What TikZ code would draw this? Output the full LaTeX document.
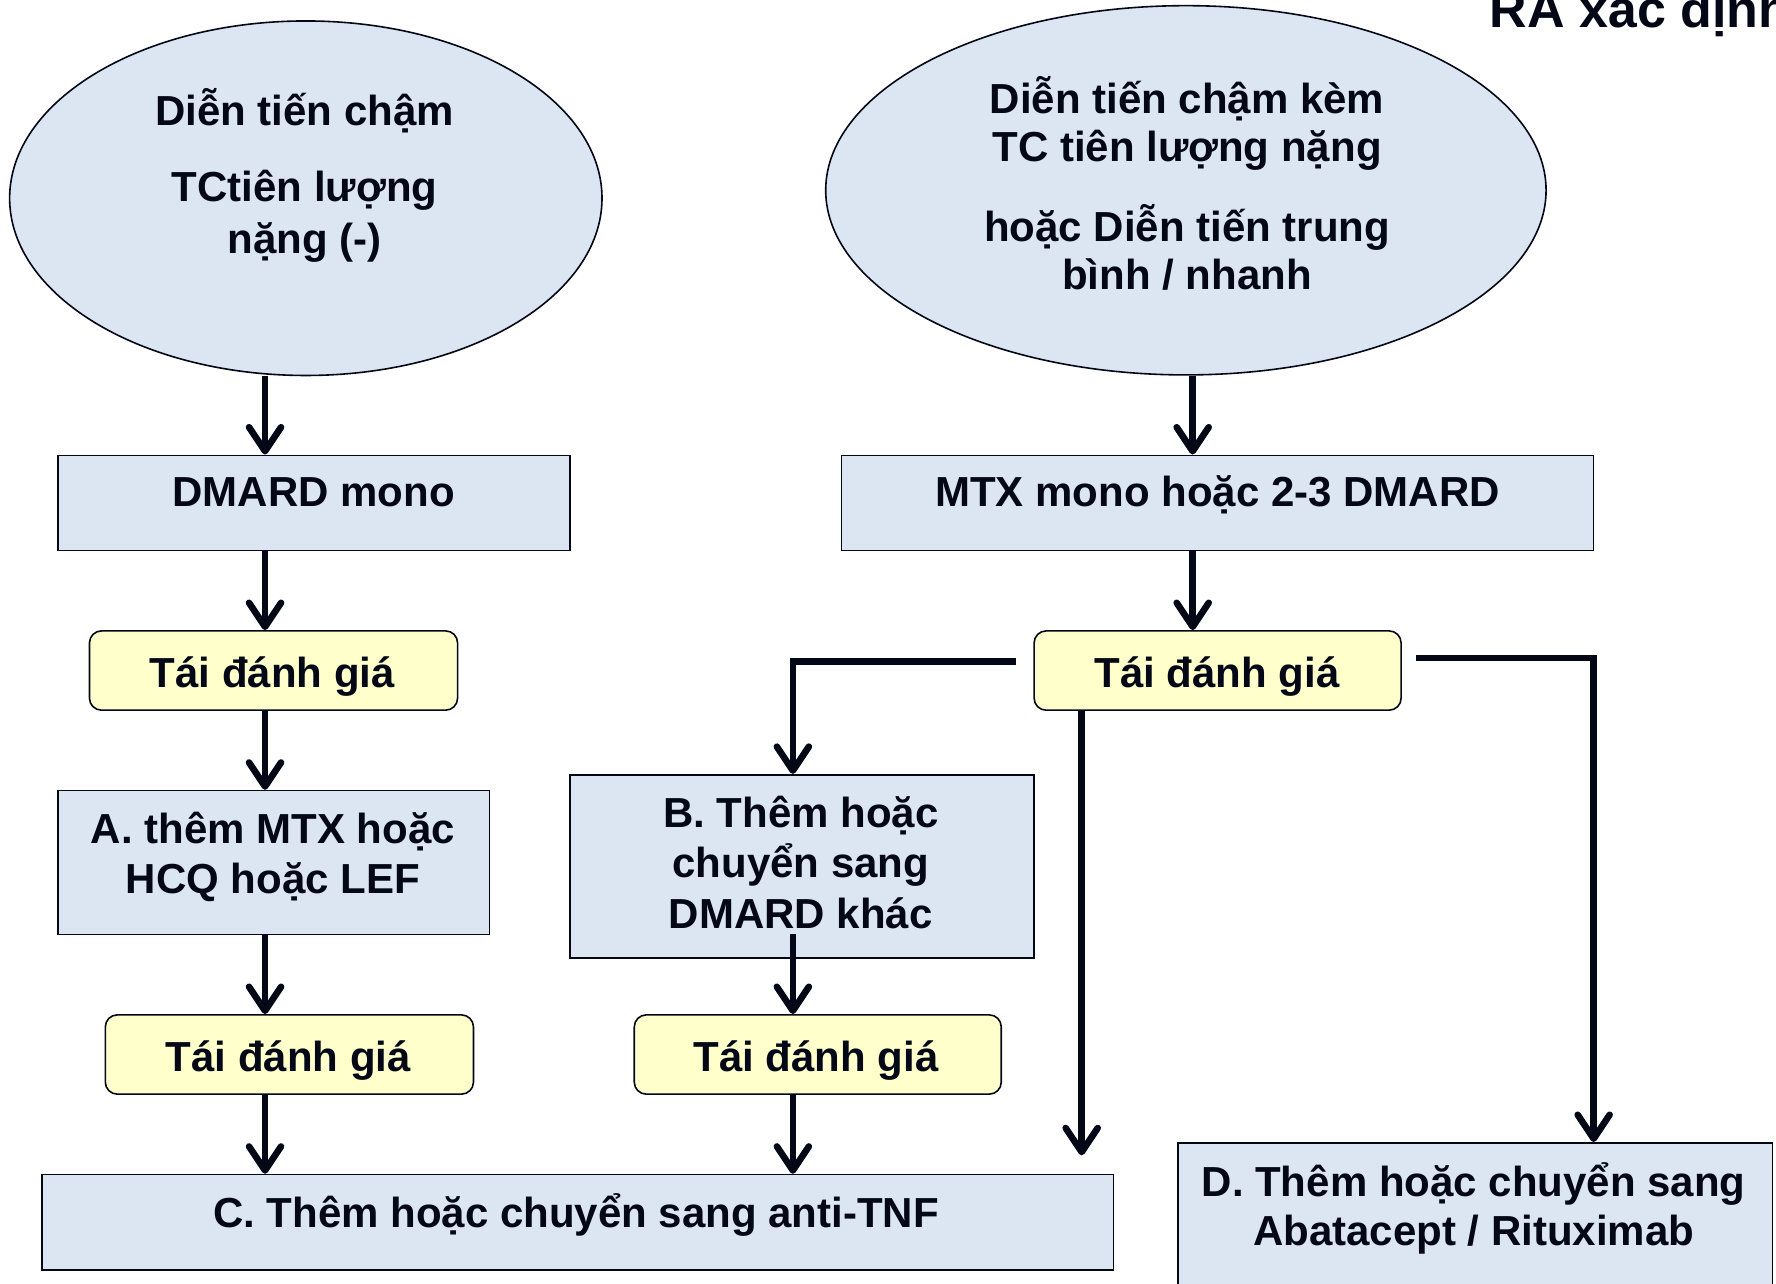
\documentclass[tikz,border=0pt]{standalone}
\usepackage{fontspec}
\setmainfont{Liberation Sans}
\usetikzlibrary{shapes.geometric,arrows.meta,calc}
\definecolor{lb}{RGB}{220,230,242}
\definecolor{ly}{RGB}{255,255,204}
\definecolor{ink}{RGB}{4,8,22}
\def\PX{*0.5663pt}
\begin{document}
\begin{tikzpicture}[x=0.5663pt,y=-0.5663pt,
  ell/.style={ellipse,draw=ink,line width=0.8pt,fill=lb,inner sep=0pt},
  bx/.style={rectangle,draw=ink,line width=0.8pt,fill=lb,inner sep=0pt},
  yb/.style={rectangle,rounded corners=6pt,draw=ink,line width=0.8pt,fill=ly,inner sep=0pt},
  tx/.style={anchor=base,inner sep=0pt,text=ink,font=\bfseries\fontsize{21}{25}\selectfont},
  ttl/.style={anchor=base west,inner sep=0pt,text=ink,font=\bfseries\fontsize{26}{30}\selectfont},
  arr/.style={draw=ink,line width=3.3pt,-{Straight Barb[length=12pt,width=16pt,round]}}]
\clip (0,0) rectangle (1568,1133);
\fill[white] (0,0) rectangle (1568,1133);

% title (cut at the edge, as in the reference)
\node[ttl] (title) at (1315,24) {RA xác định};

% ellipses
\node[ell,minimum width=523\PX,minimum height=313\PX] (ellL) at (270,175) {};
\node[ell,minimum width=636\PX,minimum height=326\PX] (ellR) at (1047,168) {};
\node[tx] (eL1) at (269,111) {Diễn tiến chậm};
\node[tx] (eL2) at (269,178) {TCtiên lượng};
\node[tx] (eL3) at (269,224) {nặng (-)};
\node[tx] (eR1) at (1048,100) {Diễn tiến chậm kèm};
\node[tx] (eR2) at (1048,143) {TC tiên lượng nặng};
\node[tx] (eR3) at (1048,213) {hoặc Diễn tiến trung};
\node[tx] (eR4) at (1048,256) {bình / nhanh};

% boxes
\node[bx,minimum width=452\PX,minimum height=84\PX] (dm) at (277,444) {};
\node[tx] (dmt) at (277,447) {DMARD mono};
\node[bx,minimum width=664\PX,minimum height=84\PX] (mtx) at (1075,444) {};
\node[tx] (mtxt) at (1075,447) {MTX mono hoặc 2-3 DMARD};

\node[yb,minimum width=325\PX,minimum height=70\PX] (t1) at (241.5,592) {};
\node[tx] (t1t) at (240.5,607) {Tái đánh giá};
\node[yb,minimum width=324\PX,minimum height=70\PX] (tR) at (1075,592) {};
\node[tx] (tRt) at (1074.5,607) {Tái đánh giá};

\node[bx,minimum width=381\PX,minimum height=127\PX] (A) at (241.5,761.5) {};
\node[tx] (A1) at (241,745) {A. thêm MTX hoặc};
\node[tx] (A2) at (241,789) {HCQ hoặc LEF};

\node[bx,minimum width=410\PX,minimum height=162\PX] (B) at (708,765) {};
\node[tx] (B1) at (707,731) {B. Thêm hoặc};
\node[tx] (B2) at (707,775) {chuyển sang};
\node[tx] (B3) at (707,820) {DMARD khác};

\node[yb,minimum width=325\PX,minimum height=70\PX] (t2) at (255.5,931) {};
\node[tx] (t2t) at (254.5,946) {Tái đánh giá};
\node[yb,minimum width=324\PX,minimum height=70\PX] (t3) at (722,931) {};
\node[tx] (t3t) at (720.5,946) {Tái đánh giá};

\node[bx,minimum width=946\PX,minimum height=84\PX] (C) at (510,1079) {};
\node[tx] (Ct) at (508.5,1084) {C. Thêm hoặc chuyển sang anti-TNF};

\node[bx,minimum width=525\PX,minimum height=142\PX] (D) at (1302.5,1080) {};
\node[tx] (D1) at (1301,1056) {D. Thêm hoặc chuyển sang};
\node[tx] (D2) at (1301,1100) {Abatacept / Rituximab};

% connector helper coordinates
\coordinate (cL) at (234,0);
\coordinate (cR) at (1053,0);
\coordinate (cB) at (700,0);
\coordinate (cV) at (955,0);
\coordinate (cD) at (1407,0);
\coordinate (bstart) at (897,584);
\coordinate (dstart) at (1250,581);
\coordinate (bmid) at (700,825);
\coordinate (vend) at (955,1020);

% left column
\draw[arr] (ellL.south -| cL) -- (dm.north -| cL);
\draw[arr] (dm.south -| cL) -- (t1.north -| cL);
\draw[arr] (t1.south -| cL) -- (A.north -| cL);
\draw[arr] (A.south -| cL) -- (t2.north -| cL);
\draw[arr] (t2.south -| cL) -- (C.north -| cL);

% right column
\draw[arr] (ellR.south -| cR) -- (mtx.north -| cR);
\draw[arr] (mtx.south -| cR) -- (tR.north -| cR);
\draw[arr] (bstart) -- (bstart -| cB) -- (B.north -| cB);
\draw[arr] (bmid) -- (t3.north -| cB);
\draw[arr] (t3.south -| cB) -- (C.north -| cB);
\draw[arr] (tR.south -| cV) -- (vend);
\draw[arr] (dstart) -- (dstart -| cD) -- (D.north -| cD);
\end{tikzpicture}
\end{document}
